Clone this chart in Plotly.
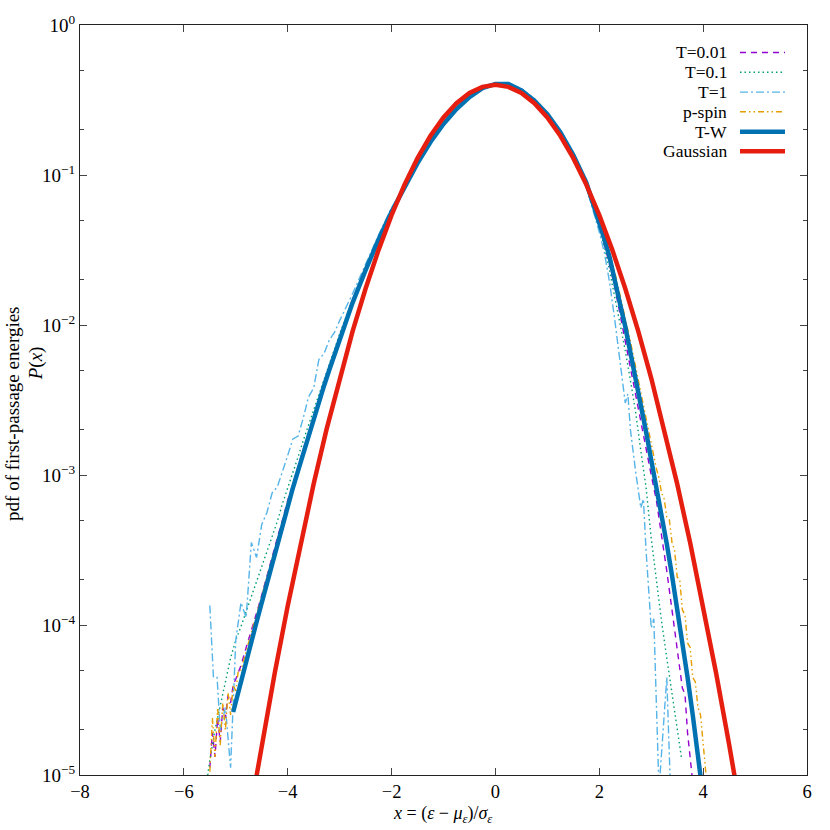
import plotly.graph_objects as go

# ---------------- data ----------------
x_tw = [-5.05, -5.0, -4.9, -4.8, -4.7, -4.6, -4.5, -4.4, -4.3, -4.2, -4.1, -4.0, -3.9, -3.8, -3.7,
        -3.6, -3.5, -3.4, -3.3, -3.2, -3.1, -3.0, -2.75, -2.5, -2.25, -2.0, -1.75, -1.5, -1.25,
        -1.0, -0.75, -0.5, -0.25, 0.0, 0.25, 0.5, 0.75, 1.0, 1.25, 1.5, 1.75, 2.0, 2.1, 2.2, 2.3,
        2.4, 2.5, 2.6, 2.7, 2.8, 2.9, 3.0, 3.1, 3.2, 3.3, 3.4, 3.5, 3.6, 3.7, 3.8, 3.9, 4.0, 4.1]
y_tw = [2.63e-5, 3.09e-5, 4.17e-5, 5.62e-5, 7.59e-5, 1.047e-4, 1.41e-4, 1.905e-4, 2.57e-4, 3.47e-4,
        4.68e-4, 6.31e-4, 8.22e-4, 1.07e-3, 1.40e-3, 1.82e-3, 2.37e-3, 3.05e-3, 3.94e-3, 5.01e-3,
        6.38e-3, 8.13e-3, 1.41e-2, 2.32e-2, 3.72e-2, 5.69e-2, 8.41e-2, 0.120, 0.166, 0.219, 0.275,
        0.331, 0.380, 0.405, 0.405, 0.367, 0.313, 0.254, 0.193, 0.136, 0.0891, 0.0490, 0.0372,
        0.0282, 0.0204, 0.0138, 9.77e-3, 6.61e-3, 4.47e-3, 2.95e-3, 1.95e-3, 1.26e-3, 8.32e-4,
        5.50e-4, 3.47e-4, 2.14e-4, 1.29e-4, 7.76e-5, 4.47e-5, 2.51e-5, 1.35e-5, 7.24e-6, 3.8e-6]

x_gauss = [-4.75, -4.5, -4.25, -4.0, -3.75, -3.5, -3.25, -3.0, -2.75, -2.5, -2.25, -2.0, -1.75,
           -1.5, -1.25, -1.0, -0.75, -0.5, -0.25, 0.0, 0.25, 0.5, 0.75, 1.0, 1.25, 1.5, 1.75,
           2.0, 2.25, 2.5, 2.75, 3.0, 3.25, 3.5, 3.75, 4.0, 4.25, 4.5, 4.75]
y_gauss = [5.03e-6, 1.60e-5, 4.77e-5, 1.34e-4, 3.53e-4, 8.73e-4, 2.03e-3, 4.43e-3, 9.09e-3,
           0.0175, 0.0317, 0.0540, 0.0863, 0.1295, 0.1826, 0.2420, 0.3011, 0.3521, 0.3867,
           0.3989, 0.3867, 0.3521, 0.3011, 0.2420, 0.1826, 0.1295, 0.0863, 0.0540, 0.0317,
           0.0175, 9.09e-3, 4.43e-3, 2.03e-3, 8.73e-4, 3.53e-4, 1.34e-4, 4.77e-5, 1.60e-5, 5.03e-6]

x_t001 = [-5.5, -5.45, -5.4, -5.35, -5.3, -5.25, -5.2, -5.15, -5.1, -5.05, -5.0, -4.9, -4.8, -4.7,
          -4.6, -4.5, -4.4, -4.3, -4.2, -4.1, -4.0, -3.9, -3.8, -3.7, -3.6, -3.5, -3.4, -3.3, -3.2,
          -3.1, -3.0, -2.75, -2.5, -2.25, -2.0, -1.75, -1.5, -1.25, -1.0, -0.75, -0.5, -0.25, 0.0,
          0.25, 0.5, 0.75, 1.0, 1.25, 1.5, 1.75, 2.0, 2.1, 2.2, 2.3, 2.4, 2.5, 2.6, 2.7, 2.8, 2.9,
          3.0, 3.1, 3.2, 3.3, 3.4, 3.5, 3.6, 3.65, 3.7, 3.8]
y_t001 = [1.12e-5, 1.91e-5, 1.32e-5, 2.40e-5, 1.66e-5, 2.82e-5, 2.40e-5, 3.39e-5, 3.02e-5, 3.98e-5,
          4.37e-5, 5.37e-5, 7.08e-5, 9.12e-5, 1.20e-4, 1.58e-4, 2.14e-4, 2.82e-4, 3.80e-4, 5.01e-4,
          6.76e-4, 8.71e-4, 1.15e-3, 1.48e-3, 1.91e-3, 2.45e-3, 3.16e-3, 4.07e-3, 5.13e-3, 6.61e-3,
          8.32e-3, 1.45e-2, 2.37e-2, 3.80e-2, 5.75e-2, 8.51e-2, 0.120, 0.166, 0.219, 0.275, 0.331,
          0.380, 0.405, 0.405, 0.367, 0.313, 0.251, 0.191, 0.135, 0.0871, 0.0468, 0.0347, 0.0251,
          0.0178, 0.0117, 7.76e-3, 5.13e-3, 3.31e-3, 2.19e-3, 1.45e-3, 1.00e-3, 6.76e-4, 3.98e-4,
          2.29e-4, 1.26e-4, 6.76e-5, 3.80e-5, 3.47e-5, 1.91e-5, 8.91e-6]

x_t01 = [-5.6, -5.5, -5.4, -5.3, -5.2, -5.1, -5.0, -4.9, -4.8, -4.7, -4.6, -4.5, -4.4, -4.3, -4.2,
         -4.1, -4.0, -3.9, -3.8, -3.7, -3.6, -3.5, -3.4, -3.3, -3.2, -3.1, -3.0, -2.75, -2.5, -2.25,
         -2.0, -1.75, -1.5, -1.25, -1.0, -0.75, -0.5, -0.25, 0.0, 0.25, 0.5, 0.75, 1.0, 1.25, 1.5,
         1.75, 2.0, 2.1, 2.2, 2.3, 2.4, 2.5, 2.6, 2.7, 2.8, 2.9, 3.0, 3.1, 3.2, 3.3, 3.4, 3.5, 3.58]
y_t01 = [7.08e-6, 1.26e-5, 2.00e-5, 2.82e-5, 4.17e-5, 6.03e-5, 7.94e-5, 9.77e-5, 1.23e-4, 1.55e-4,
         1.95e-4, 2.45e-4, 3.09e-4, 3.98e-4, 4.90e-4, 6.46e-4, 8.13e-4, 1.02e-3, 1.32e-3, 1.70e-3,
         2.14e-3, 2.75e-3, 3.47e-3, 4.37e-3, 5.50e-3, 6.92e-3, 8.71e-3, 1.48e-2, 2.40e-2, 3.80e-2,
         5.75e-2, 8.41e-2, 0.119, 0.164, 0.216, 0.272, 0.327, 0.376, 0.404, 0.404, 0.363, 0.309,
         0.248, 0.186, 0.130, 0.0832, 0.0437, 0.0331, 0.0229, 0.0155, 0.0102, 6.76e-3, 4.27e-3,
         2.63e-3, 1.45e-3, 8.32e-4, 3.80e-4, 1.91e-4, 1.05e-4, 6.03e-5, 3.47e-5, 2.09e-5, 1.32e-5]

x_t1 = [-5.5, -5.43, -5.36, -5.3, -5.2, -5.1, -5.0, -4.9, -4.8, -4.7, -4.6, -4.5, -4.4, -4.3, -4.2,
        -4.1, -4.0, -3.9, -3.8, -3.7, -3.6, -3.5, -3.4, -3.3, -3.2, -3.1, -3.0, -2.75, -2.5, -2.25,
        -2.0, -1.75, -1.5, -1.25, -1.0, -0.75, -0.5, -0.25, 0.0, 0.25, 0.5, 0.75, 1.0, 1.25, 1.5,
        1.75, 2.0, 2.1, 2.2, 2.3, 2.4, 2.5, 2.55, 2.6, 2.7, 2.8, 2.85, 2.9, 3.0, 3.05, 3.15, 3.3, 3.38]
y_t1 = [1.35e-4, 4.47e-5, 4.47e-5, 2.00e-5, 2.82e-5, 1.12e-5, 7.94e-5, 1.41e-4, 1.12e-4, 3.55e-4,
        2.82e-4, 4.68e-4, 5.62e-4, 7.59e-4, 8.32e-4, 1.05e-3, 1.35e-3, 1.74e-3, 1.82e-3, 2.40e-3,
        3.31e-3, 3.80e-3, 5.89e-3, 6.46e-3, 7.94e-3, 8.91e-3, 1.07e-2, 1.62e-2, 2.57e-2, 3.98e-2,
        6.03e-2, 8.51e-2, 0.120, 0.162, 0.216, 0.269, 0.327, 0.380, 0.405, 0.410, 0.376, 0.324,
        0.257, 0.191, 0.132, 0.0832, 0.0417, 0.0302, 0.0191, 0.0107, 5.62e-3, 3.02e-3, 3.47e-3,
        2.00e-3, 1.05e-3, 6.03e-4, 6.92e-4, 3.16e-4, 9.55e-5, 1.10e-4, 7.94e-6, 4.47e-5, 6.31e-6]

x_pspin = [-5.5, -5.45, -5.4, -5.35, -5.3, -5.25, -5.2, -5.15, -5.1, -5.05, -5.0, -4.95, -4.9,
           -4.8, -4.7, -4.6, -4.5, -4.4, -4.3, -4.2, -4.1, -4.0, -3.9, -3.8, -3.7, -3.6, -3.5, -3.4,
           -3.3, -3.2, -3.1, -3.0, -2.75, -2.5, -2.25, -2.0, -1.75, -1.5, -1.25, -1.0, -0.75, -0.5,
           -0.25, 0.0, 0.25, 0.5, 0.75, 1.0, 1.25, 1.5, 1.75, 2.0, 2.1, 2.2, 2.3, 2.4, 2.5, 2.6,
           2.7, 2.8, 2.9, 3.0, 3.1, 3.15, 3.2, 3.25, 3.3, 3.35, 3.4, 3.45, 3.5, 3.55, 3.6, 3.65,
           3.7, 3.75, 3.8, 3.85, 3.9, 3.95, 4.0, 4.05, 4.1]
y_pspin = [1.05e-5, 2.40e-5, 1.32e-5, 2.82e-5, 1.58e-5, 3.02e-5, 2.00e-5, 3.55e-5, 2.51e-5, 3.98e-5,
           3.63e-5, 5.01e-5, 5.01e-5, 6.76e-5, 8.91e-5, 1.17e-4, 1.55e-4, 2.09e-4, 2.75e-4, 3.72e-4,
           4.90e-4, 6.61e-4, 8.51e-4, 1.12e-3, 1.45e-3, 1.86e-3, 2.43e-3, 3.13e-3, 4.03e-3, 5.13e-3,
           6.53e-3, 8.22e-3, 1.41e-2, 2.32e-2, 3.72e-2, 5.69e-2, 8.41e-2, 0.120, 0.166, 0.219,
           0.275, 0.331, 0.380, 0.405, 0.405, 0.367, 0.313, 0.254, 0.195, 0.140, 0.0912, 0.0525,
           0.0398, 0.0302, 0.0224, 0.0158, 0.0112, 7.76e-3, 5.25e-3, 3.55e-3, 2.40e-3, 1.58e-3,
           1.10e-3, 9.55e-4, 7.59e-4, 6.92e-4, 5.25e-4, 5.01e-4, 3.55e-4, 3.16e-4, 2.09e-4,
           2.00e-4, 1.26e-4, 1.17e-4, 7.59e-5, 7.08e-5, 4.47e-5, 4.17e-5, 2.82e-5, 2.51e-5,
           1.58e-5, 1.05e-5, 5.01e-6]

series_names = ["T=0.01", "T=0.1", "T=1", "p-spin", "T-W", "Gaussian"]
series_x = [x_t001, x_t01, x_t1, x_pspin, x_tw, x_gauss]
series_y = [y_t001, y_t01, y_t1, y_pspin, y_tw, y_gauss]

y_tick_vals = [1e-5, 1e-4, 1e-3, 1e-2, 1e-1, 1e0]
y_tick_text = ["10<sup>−5</sup>", "10<sup>−4</sup>", "10<sup>−3</sup>", "10<sup>−2</sup>",
               "10<sup>−1</sup>", "10<sup>0</sup>"]
x_tick_vals = [-8, -6, -4, -2, 0, 2, 4, 6]

# ---------------- styles ----------------
colors = ["#9400D3", "#009E73", "#56B4E9", "#E69F00", "#0072B2", "#E51E10"]
dashes = ["6px,5px", "1.5px,3px", "8px,3px,2px,3px", "6px,3px,1.5px,3px,1.5px,3px", "solid", "solid"]
widths = [1.4, 1.4, 1.4, 1.4, 4.5, 4.5]

FONT = "Liberation Serif"

fig = go.Figure()
for name, xs, ys, c, d, w in zip(series_names, series_x, series_y, colors, dashes, widths):
    fig.add_trace(go.Scatter(x=xs, y=ys, mode="lines", name=name, showlegend=False,
                             hoverinfo="skip", line=dict(color=c, width=w, dash=d)))

# the page's default body margin is removed (post_script below), so the figure fills the window
W, H = 830, 830
L, R, T, B = 80, 23, 19, 55
pw, ph = W - L - R, H - T - B


def px2paper_x(px):
    return (px - L) / pw


def px2paper_y(py):
    return (H - B - py) / ph


key_rows = [46.7, 66.7, 86.7, 106.5, 126.7, 146.3]
shapes = []
annotations = []
for name, c, d, w, row in zip(series_names, colors, dashes, widths, key_rows):
    yy = px2paper_y(row)
    annotations.append(dict(x=px2paper_x(729), y=yy, xref="paper", yref="paper",
                            text=name, showarrow=False, xanchor="right", yanchor="middle",
                            font=dict(family=FONT, size=17.5, color="black")))
    shapes.append(dict(type="line", xref="paper", yref="paper",
                       x0=px2paper_x(740), x1=px2paper_x(785), y0=yy, y1=yy,
                       line=dict(color=c, width=w, dash=d)))

# axis titles
annotations.append(dict(x=px2paper_x(13), y=px2paper_y(411), xref="paper", yref="paper",
                        text="pdf of first-passage energies", textangle=-90, showarrow=False,
                        xanchor="center", yanchor="middle",
                        font=dict(family=FONT, size=19, color="black")))
annotations.append(dict(x=px2paper_x(36), y=px2paper_y(360), xref="paper", yref="paper",
                        text="<i>P</i>(<i>x</i>)", textangle=-90, showarrow=False,
                        xanchor="center", yanchor="middle",
                        font=dict(family=FONT, size=19, color="black")))
annotations.append(dict(x=px2paper_x(442), y=px2paper_y(815), xref="paper", yref="paper",
                        text="<i>x</i> = (<i>ε</i> − <i>μ</i><sub><i>ε</i></sub>)/<i>σ</i><sub><i>ε</i></sub>",
                        showarrow=False, xanchor="center", yanchor="middle",
                        font=dict(family=FONT, size=18, color="black")))

fig.update_layout(
    width=W, height=H,
    margin=dict(l=L, r=R, t=T, b=B),
    paper_bgcolor="white", plot_bgcolor="white",
    font=dict(family=FONT, size=18, color="black"),
    shapes=shapes, annotations=annotations,
    showlegend=False, hovermode=False,
)
fig.update_xaxes(range=[-8, 6], tickvals=x_tick_vals, ticks="inside", ticklen=7,
                 tickcolor="#444", showline=True, linecolor="#222", linewidth=1,
                 mirror="ticks", showgrid=False, zeroline=False,
                 tickfont=dict(family=FONT, size=18.5, color="black"))
fig.update_yaxes(type="log", range=[-5, 0], tickvals=y_tick_vals, ticktext=y_tick_text,
                 ticks="inside", ticklen=7, tickcolor="#444", showline=True, linecolor="#222",
                 linewidth=1, mirror="ticks", showgrid=False, zeroline=False,
                 ticklabeloverflow="allow",
                 minor=dict(ticks="inside", ticklen=4, tickcolor="#444", showgrid=False),
                 tickfont=dict(family=FONT, size=19, color="black"))

fig.write_html("out.html", config={"displayModeBar": False},
               post_script="document.body.style.margin='0';document.body.style.overflow='hidden';")
